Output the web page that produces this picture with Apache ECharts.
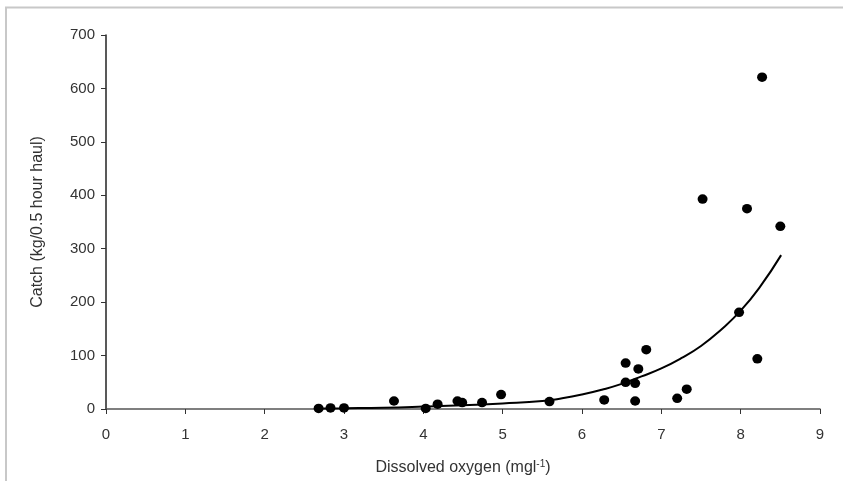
<!DOCTYPE html>
<html>
<head>
<meta charset="utf-8">
<script src="https://cdn.jsdelivr.net/npm/echarts@6/dist/echarts.min.js"></script>
<style>
html,body{margin:0;padding:0;background:#fff;}
#chart{width:843px;height:481px;}
</style>
</head>
<body>
<div id="chart"></div>
<script>
// Observed points: dissolved oxygen (mg/l) and catch (kg/0.5 hour haul)
const oxygen = [2.68, 2.83, 3.00, 3.63, 4.03, 4.18, 4.43, 4.49, 4.74, 4.98, 5.59, 6.28, 6.55, 6.55, 6.67, 6.67, 6.71, 6.81, 7.20, 7.32, 7.52, 7.98, 8.08, 8.21, 8.27, 8.50];
const catchKg = [1, 2, 2, 15, 1, 9, 15, 12, 12, 27, 14, 17, 50, 86, 15, 48, 75, 111, 20, 37, 393, 181, 375, 94, 621, 342];

// Fitted curve
const curveX = [2.68, 3.0, 3.5, 4.0, 4.5, 5.0, 5.5, 5.75, 6.0, 6.25, 6.5, 6.75, 7.0, 7.25, 7.5, 7.75, 8.0, 8.25, 8.51];
const curveY = [1, 1.5, 2.5, 4.5, 7, 10.5, 15, 20, 27, 36, 47, 61, 76, 95, 118, 148, 184, 230, 288];

const xTicks = [0, 1, 2, 3, 4, 5, 6, 7, 8, 9];
const yTicks = [0, 100, 200, 300, 400, 500, 600, 700];

const points = oxygen.map((x, i) => [x, catchKg[i]]);
const curve = curveX.map((x, i) => [x, curveY[i]]);

const chart = echarts.init(document.getElementById('chart'), null, {renderer: 'canvas'});
const font = '"Liberation Sans", Arial, sans-serif';
chart.setOption({
  animation: false,
  backgroundColor: '#fff',
  grid: {left: 106, right: 23, top: 35, bottom: 72, containLabel: false},
  graphic: [
    {type: 'polyline', shape: {points: [[6, 481], [6, 7.5], [843, 7.5]]}, style: {stroke: '#c8c8c8', lineWidth: 2, fill: null}, silent: true}
  ],
  xAxis: {
    type: 'value',
    min: xTicks[0], max: xTicks[xTicks.length - 1], interval: 1,
    name: 'Dissolved oxygen (mgl{sup|-1})',
    nameLocation: 'middle', nameGap: 50,
    nameTextStyle: {fontFamily: font, fontSize: 16, color: '#333',
      rich: {sup: {fontFamily: font, fontSize: 10, color: '#333', verticalAlign: 'top', padding: [0, 0, 8, 0]}}},
    axisLine: {show: true, onZero: false, lineStyle: {color: '#555', width: 1.5}},
    axisTick: {show: true, inside: false, length: 5, lineStyle: {color: '#333'}},
    axisLabel: {fontFamily: font, fontSize: 15, color: '#333', margin: 18},
    splitLine: {show: false}
  },
  yAxis: {
    type: 'value',
    min: yTicks[0], max: yTicks[yTicks.length - 1], interval: 100,
    name: 'Catch (kg/0.5 hour haul)',
    nameLocation: 'middle', nameGap: 60,
    nameTextStyle: {fontFamily: font, fontSize: 16, color: '#333'},
    axisLine: {show: true, onZero: false, lineStyle: {color: '#222', width: 1.5}},
    axisTick: {show: true, inside: false, length: 5, lineStyle: {color: '#333'}},
    axisLabel: {fontFamily: font, fontSize: 15, color: '#333', margin: 11},
    splitLine: {show: false}
  },
  series: [
    {
      type: 'line', data: curve, smooth: 0.5, showSymbol: false, symbol: 'none',
      lineStyle: {color: '#000', width: 2}, z: 2
    },
    {
      type: 'scatter', data: points, symbol: 'circle', symbolSize: [10, 9.5],
      itemStyle: {color: '#000', opacity: 1}, z: 3
    }
  ]
});
</script>
</body>
</html>
